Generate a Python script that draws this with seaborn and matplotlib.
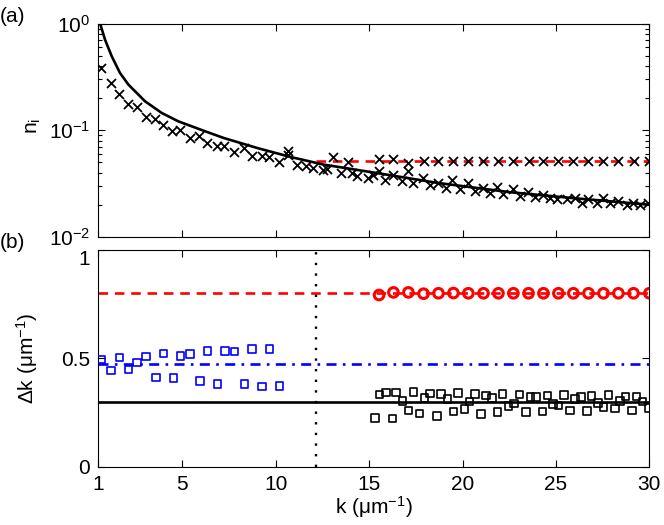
import matplotlib
matplotlib.use("Agg")
import matplotlib.pyplot as plt
import seaborn as sns
import numpy as np

# ---- data ----
# panel (a): occupation n_i vs k
cloud_k = [0.65, 1.16, 1.61, 2.11, 2.56, 3.06, 3.54, 3.98, 4.47, 4.88,
           5.41, 5.89, 6.34, 6.84, 7.23, 7.79, 8.30, 8.71, 9.25, 9.64,
           10.18, 10.68, 10.68, 11.12, 11.62, 11.98, 12.55, 12.76, 13.48, 14.07,
           14.33, 14.96, 15.23, 15.55, 15.85, 16.26, 16.74, 17.10, 17.37, 17.90,
           18.26, 18.71, 19.12, 19.46, 19.87, 20.31, 20.67, 21.11, 21.47, 21.83,
           22.19, 22.72, 23.08, 23.52, 23.88, 24.33, 24.68, 25.04, 25.58, 26.02,
           26.38, 26.74, 27.18, 27.54, 27.90, 28.34, 28.79, 29.14, 29.50, 29.95]
cloud_n = [0.384, 0.278, 0.219, 0.175, 0.164, 0.133, 0.128, 0.111, 0.0993, 0.101,
           0.0848, 0.0879, 0.0761, 0.0718, 0.0718, 0.0626, 0.0683, 0.0578, 0.0570, 0.0562,
           0.0501, 0.0636, 0.0579, 0.0470, 0.0466, 0.0443, 0.0421, 0.0437, 0.0398, 0.0398,
           0.0370, 0.0357, 0.0376, 0.0418, 0.0338, 0.0376, 0.0333, 0.0410, 0.0317, 0.0358,
           0.0303, 0.0321, 0.0289, 0.0338, 0.0282, 0.0321, 0.0268, 0.0289, 0.0259, 0.0292,
           0.0253, 0.0282, 0.0241, 0.0262, 0.0237, 0.0249, 0.0232, 0.0224, 0.0224, 0.0232,
           0.0208, 0.0224, 0.0208, 0.0229, 0.0206, 0.0216, 0.0197, 0.0206, 0.0197, 0.0206]

flat_k = [13.08, 13.85, 15.53, 16.30, 17.10, 17.91, 18.71, 19.51, 20.31, 21.12, 21.92,
          22.72, 23.53, 24.33, 25.13, 25.93, 26.74, 27.54, 28.34, 29.15, 30.0]
flat_n = [0.0563, 0.0505, 0.0531, 0.0531, 0.0494, 0.0519, 0.0519, 0.0513, 0.0513, 0.0513, 0.0513,
          0.0513, 0.0513, 0.0513, 0.0513, 0.0513, 0.0513, 0.0513, 0.0513, 0.0513, 0.0513]

fit_k = [0.6, 0.86, 1.22, 1.66, 2.11, 3.0, 3.9, 4.79, 6.21, 7.2, 8.98,
         10.77, 12.55, 15.58, 18.62, 22.54, 25.75, 30.0]
fit_n = [1.0, 0.708, 0.494, 0.345, 0.268, 0.187, 0.145, 0.121, 0.0978, 0.0847, 0.0683,
         0.0562, 0.0476, 0.0392, 0.0321, 0.0262, 0.0232, 0.0200]

flat_level = 0.0513
split_k = 12.14

# panel (b): linewidth dk vs k
blue_k = [0.65, 1.17, 1.63, 2.11, 2.58, 3.06, 3.58, 3.99, 4.52, 4.90, 5.42,
          5.95, 6.34, 6.88, 7.27, 7.79, 8.32, 8.73, 9.27, 9.66, 10.20]
blue_dk = [0.494, 0.443, 0.503, 0.448, 0.480, 0.509, 0.411, 0.523, 0.410, 0.512, 0.519,
           0.396, 0.535, 0.382, 0.534, 0.532, 0.382, 0.544, 0.370, 0.544, 0.373]

black_k = [15.32, 15.55, 15.89, 16.24, 16.44, 16.78, 17.10, 17.37, 17.69, 17.96,
           18.26, 18.62, 18.83, 19.19, 19.51, 19.74, 20.10, 20.37, 20.67, 20.99,
           21.24, 21.56, 21.86, 22.13, 22.45, 22.76, 23.04, 23.38, 23.63, 23.93,
           24.27, 24.54, 24.83, 25.13, 25.43, 25.75, 26.02, 26.33, 26.66, 26.91,
           27.24, 27.54, 27.81, 28.15, 28.43, 28.73, 29.06, 29.32, 29.64, 29.95]
black_dk = [0.225, 0.334, 0.343, 0.222, 0.343, 0.303, 0.259, 0.344, 0.246, 0.317,
            0.337, 0.234, 0.335, 0.312, 0.254, 0.340, 0.265, 0.301, 0.335, 0.243,
            0.329, 0.317, 0.252, 0.335, 0.279, 0.291, 0.334, 0.251, 0.321, 0.321,
            0.254, 0.329, 0.289, 0.282, 0.330, 0.260, 0.312, 0.321, 0.256, 0.326,
            0.295, 0.275, 0.330, 0.268, 0.304, 0.323, 0.259, 0.323, 0.301, 0.272]

red_k = [15.53, 16.30, 17.10, 17.91, 18.71, 19.51, 20.31, 21.12, 21.92, 22.72,
         23.53, 24.33, 25.13, 25.93, 26.74, 27.54, 28.34, 29.15, 30.0]
red_dk = [0.792, 0.804, 0.804, 0.798, 0.800, 0.801, 0.800, 0.800, 0.800, 0.800,
          0.800, 0.800, 0.800, 0.800, 0.800, 0.800, 0.800, 0.800, 0.800]

red_level = 0.80
blue_level = 0.475
black_level = 0.298

xtick_vals = [0.5, 5, 10, 15, 20, 25, 30]
xtick_labels = ["1", "5", "10", "15", "20", "25", "30"]

# ---- style ----
sns.set_theme(style="ticks")
plt.rcParams["font.family"] = ["Liberation Sans", "DejaVu Sans"]
plt.rcParams["mathtext.default"] = "regular"
plt.rcParams["font.size"] = 15
plt.rcParams["axes.linewidth"] = 0.8
for key in ["text.color", "axes.labelcolor", "xtick.color", "ytick.color", "axes.edgecolor"]:
    plt.rcParams[key] = "black"

fig = plt.figure(figsize=(6.64, 5.25), dpi=100)
ax1 = fig.add_axes([0.148, 0.549, 0.830, 0.406])
ax2 = fig.add_axes([0.148, 0.111, 0.830, 0.413])

# (a)
sns.lineplot(x=fit_k, y=fit_n, color="black", lw=1.9, ax=ax1, zorder=3)
ax1.hlines(flat_level, split_k, 30, colors="red", lw=1.9, linestyles=(0, (3.6, 2.6)), zorder=2)
sns.scatterplot(x=cloud_k, y=cloud_n, marker="x", color="black", s=42, linewidth=1.3, ax=ax1, zorder=4)
sns.scatterplot(x=flat_k, y=flat_n, marker="x", color="black", s=42, linewidth=1.3, ax=ax1, zorder=4)
ax1.set_yscale("log")
ax1.set_ylim(0.01, 1)
ax1.set_xlim(0.5, 30)
ax1.set_xticks(xtick_vals)
ax1.set_xticklabels([])
ax1.set_ylabel("$n_i$", fontsize=15)
ax1.yaxis.set_label_coords(-0.1, 0.52)

# (b)
ax2.axhline(red_level, color="red", lw=1.9, ls=(0, (3.6, 2.6)), zorder=2)
ax2.axhline(blue_level, color="blue", lw=1.9, ls=(0, (3.8, 2.4, 1.0, 2.4)), zorder=2)
ax2.axhline(black_level, color="black", lw=1.9, zorder=2)
ax2.axvline(split_k, color="black", lw=1.7, ls=(0, (1, 3.5)), zorder=2)
sns.scatterplot(x=blue_k, y=blue_dk, marker="s", s=30, facecolor="none",
                edgecolor="blue", linewidth=1.2, ax=ax2, zorder=4)
sns.scatterplot(x=black_k, y=black_dk, marker="s", s=30, facecolor="none",
                edgecolor="black", linewidth=1.2, ax=ax2, zorder=4)
sns.scatterplot(x=red_k, y=red_dk, marker="o", s=48, facecolor="none",
                edgecolor="red", linewidth=2.2, ax=ax2, zorder=4)
ax2.set_xlim(0.5, 30)
ax2.set_ylim(0, 1)
ax2.set_yticks([0, 0.5, 1])
ax2.set_yticklabels(["0", "0.5", "1"])
ax2.set_xticks(xtick_vals)
ax2.set_xticklabels(xtick_labels)
ax2.set_xlabel("k ($\\mu$m$^{-1}$)", fontsize=15, labelpad=0)
ax2.set_ylabel("$\\Delta$k ($\\mu$m$^{-1}$)", fontsize=15)
ax2.yaxis.set_label_coords(-0.105, 0.5)

for ax in (ax1, ax2):
    ax.tick_params(which="both", direction="in", top=True, right=True,
                   labelsize=15, width=0.8, pad=6, colors="black")
    ax.tick_params(which="major", length=5)
    ax.tick_params(which="minor", length=3)
    for sp in ax.spines.values():
        sp.set_visible(True)
        sp.set_color("black")

# top label of (b) sits just below its tick, clear of 10^-2 above
ax2.yaxis.get_major_ticks()[-1].label1.set_verticalalignment("top")

fig.text(0.0, 1 - 17 / 525, "(a)", fontsize=15, va="center", ha="left")
fig.text(0.0, 1 - 242 / 525, "(b)", fontsize=15, va="center", ha="left")

fig.savefig("out.png", dpi=100)
